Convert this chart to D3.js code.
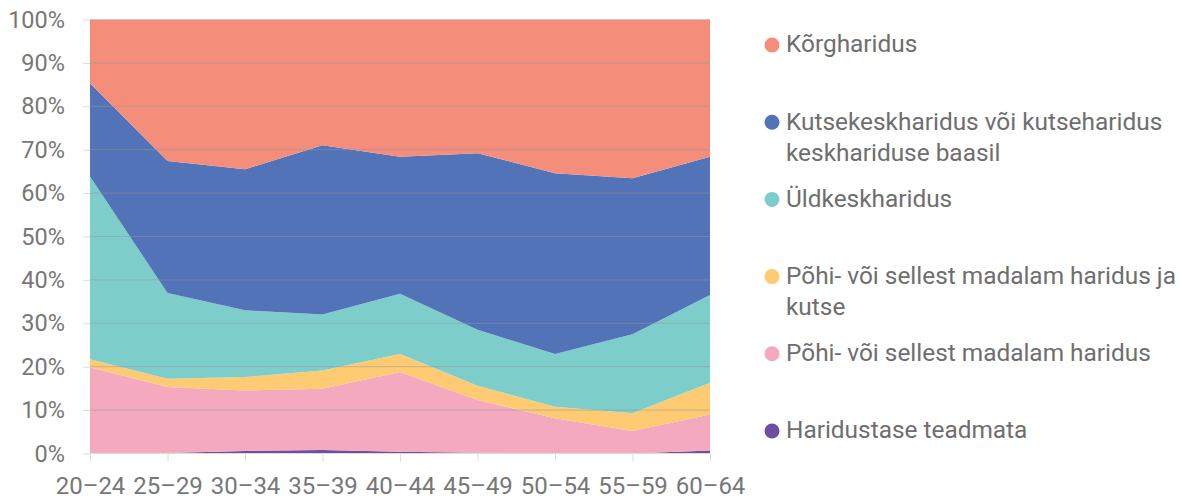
<!DOCTYPE html>
<html><head><meta charset="utf-8">
<script src="https://cdn.jsdelivr.net/npm/d3@7"></script>
<style>
html,body{margin:0;padding:0;background:#fff;}
svg{display:block;font-family:Roboto,"Noto Sans",sans-serif;}
</style></head>
<body>
<svg id="chart" width="1181" height="500"></svg>
<script>
const categories = ["20–24","25–29","30–34","35–39","40–44","45–49","50–54","55–59","60–64"];
const seriesNames = ["Haridustase teadmata","Põhi- või sellest madalam haridus","Põhi- või sellest madalam haridus ja kutse","Üldkeskharidus","Kutsekeskharidus või kutseharidus keskhariduse baasil","Kõrgharidus"];
const teadmata   = [0.0, 0.1, 0.6, 0.8, 0.4, 0.2, 0.05, 0.0, 0.7];
const pohi       = [19.9, 15.2, 13.9, 14.1, 18.4, 12.1, 8.05, 5.2, 8.3];
const pohiKutse  = [1.8, 1.9, 3.1, 4.2, 4.1, 3.3, 2.7, 4.1, 7.3];
const yldkesk    = [42.1, 19.8, 15.4, 12.9, 13.9, 12.9, 12.1, 18.2, 20.2];
const kutsekesk  = [21.5, 30.4, 32.5, 39.0, 31.6, 40.7, 41.7, 35.9, 31.9];
const korg       = [14.7, 32.6, 34.5, 29.0, 31.6, 30.8, 35.4, 36.6, 31.6];
const yTicks = [0,0.1,0.2,0.3,0.4,0.5,0.6,0.7,0.8,0.9,1];
const colors = ["#6d4ea3","#f4a9be","#fecb72","#7dcecb","#5373b8","#f48d7a"];
const legendOrder = [5,4,3,2,1,0];

const seriesValues = [teadmata, pohi, pohiKutse, yldkesk, kutsekesk, korg];
const rows = categories.map((c,i)=>{const r={cat:c}; seriesNames.forEach((s,j)=>r[s]=seriesValues[j][i]); return r;});

const svg = d3.select("#chart");
const m = {left:90, right:471, top:19.5, bottom:46.5};
const W = 1181, H = 500;
const x = d3.scalePoint().domain(categories).range([m.left, W - m.right]);
const y = d3.scaleLinear().domain([0,1]).range([H - m.bottom, m.top]);

const stack = d3.stack().keys(seriesNames).offset(d3.stackOffsetExpand);
const layers = stack(rows);
const area = d3.area().x(d=>x(d.data.cat)).y0(d=>y(d[0])).y1(d=>y(d[1]));

svg.append("g").selectAll("path").data(layers).join("path")
  .attr("d", area).attr("fill", (d,i)=>colors[i]);

// gridlines on top
svg.append("g").selectAll("line").data(yTicks.filter(t=>t>0 && t<1)).join("line")
  .attr("x1", m.left).attr("x2", W - m.right)
  .attr("y1", d=>y(d)).attr("y2", d=>y(d))
  .attr("stroke","rgba(150,150,150,0.5)").attr("stroke-width",1);
svg.append("line").attr("x1",m.left).attr("x2",W-m.right).attr("y1",y(1)).attr("y2",y(1))
  .attr("stroke","#c8c8c8").attr("stroke-width",1);

// y axis
const yAxis = d3.axisLeft(y).tickValues(yTicks).tickFormat(d3.format(".0%")).tickSize(7).tickPadding(18);
const gy = svg.append("g").attr("transform",`translate(${m.left},0)`).call(yAxis);
gy.select(".domain").remove();
gy.selectAll(".tick line").attr("stroke","#dcdcdc");
gy.selectAll(".tick text").attr("fill","#777").style("font-size","23.5px").style("font-family","Roboto");

// x axis
const xAxis = d3.axisBottom(x).tickSize(8).tickPadding(15);
const gx = svg.append("g").attr("transform",`translate(0,${y(0)})`).call(xAxis);
gx.select(".domain").attr("stroke","#dcdcdc").attr("d",`M${m.left},0H${W-m.right}`);
gx.selectAll(".tick line").attr("stroke","#dcdcdc");
gx.selectAll(".tick text").attr("fill","#777").style("font-size","24px").style("font-family","Roboto");

// legend
const lg = svg.append("g");
const legX = 772, legY0 = 45, legStep = 77.2, lineH = 31.5, maxW = 400;
legendOrder.forEach((si,k)=>{
  const cy = legY0 + k*legStep;
  lg.append("circle").attr("cx",legX).attr("cy",cy).attr("r",7.5).attr("fill",colors[si]);
  const t = lg.append("text").attr("x",legX+14).attr("y",cy)
    .attr("fill","#6e6e6e").style("font-size","24.4px").style("font-family","Roboto");
  const words = seriesNames[si].split(" ");
  let line = [];
  let ts = t.append("tspan").attr("x",legX+14).attr("dy","0.3em");
  words.forEach(w=>{
    line.push(w);
    ts.text(line.join(" "));
    if (ts.node().getComputedTextLength() > maxW && line.length>1){
      line.pop(); ts.text(line.join(" "));
      line=[w];
      ts = t.append("tspan").attr("x",legX+14).attr("dy",lineH).text(w);
    }
  });
});
</script>
</body></html>
